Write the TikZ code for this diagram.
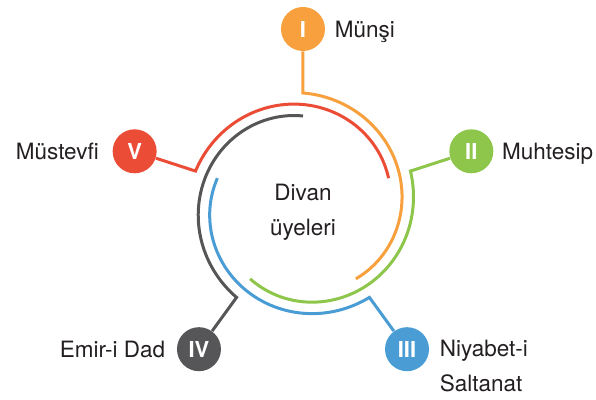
\documentclass[tikz,border=0pt]{standalone}
\usepackage{fontspec}
\setmainfont{TeX Gyre Heros}
\usepackage{tikz}
\usetikzlibrary{positioning}

\definecolor{orangeI}{RGB}{247,160,61}
\definecolor{greenII}{RGB}{141,198,75}
\definecolor{blueIII}{RGB}{74,156,212}
\definecolor{grayIV}{RGB}{86,86,88}
\definecolor{redV}{RGB}{235,76,54}
\definecolor{txtgray}{RGB}{35,31,32}

\tikzset{
  spiralline/.style={line width=1.5pt, line join=miter},
  numcircle/.style={circle, minimum size=22pt, inner sep=0pt, text=white,
    font=\bfseries\fontsize{11}{13}\selectfont},
  lbl/.style={inner sep=0pt, text=txtgray, font=\fontsize{11.25}{17.5}\selectfont,
    text height=8.2pt, text depth=0pt},
  lbltwo/.style={inner sep=0pt, text=txtgray, font=\fontsize{11.25}{17.5}\selectfont}
}

\begin{document}
\begin{tikzpicture}[x=0.5pt, y=0.5pt]
    \useasboundingbox (-303,-194) rectangle (293,206);

    % Numbered circles and spirals
    \foreach \n/\a/\col/\txt in {1/90/orangeI/I, 2/18/greenII/II, 3/-54/blueIII/III,
                                 4/-126/grayIV/IV, 5/162/redV/V} {
        \node [numcircle, fill=\col] (c\n) at (\a:177) {\txt};
        \coordinate (s\n) at (\a:113);
        \draw [spiralline, \col] (c\n) -- (s\n) -- plot [domain=1:144, samples=60, smooth]
            ({\a-\x}:{113-23*\x/144});
    }

    % Centre text
    \node [lbltwo, align=center] (title) at (0,-6) {Divan\\üyeleri};

    % Labels
    \node [lbl, right=4.5pt of c1] (t1) {Münşi};
    \node [lbl, right=4pt of c2] (t2) {Muhtesip};
    \node [lbltwo, align=left, right=5pt of c3, anchor=north west, yshift=4.5pt] (t3) {Niyabet-i\\Saltanat};
    \node [lbl, left=5.5pt of c4] (t4) {Emir-i Dad};
    \node [lbl, left=6.5pt of c5] (t5) {Müstevfi};
\end{tikzpicture}
\end{document}
